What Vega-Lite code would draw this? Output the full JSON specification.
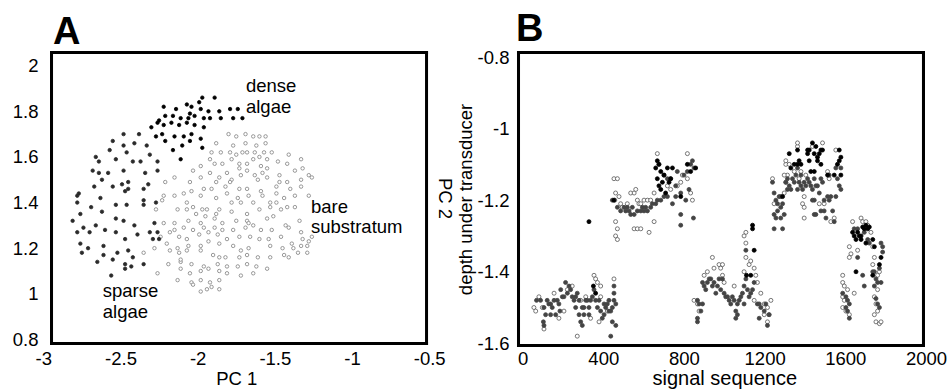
{
"$schema":"https://vega.github.io/schema/vega-lite/v6.json",
"padding":{"left":11,"top":10,"right":0,"bottom":0},
"spacing":91,
"bounds":"flush",
"resolve":{"scale":{"fill":"independent","stroke":"independent"}},
"config":{
"view":{"stroke":"#000000","strokeWidth":2},
"axis":{"labelFont":"Liberation Sans","titleFont":"Liberation Sans","labelFontSize":18.5,"titleFontSize":18.5,"titleFontWeight":"normal","labelColor":"#000","titleColor":"#000","ticks":false,"domain":false,"grid":false,"labelFlush":false,"labelOverlap":false},
"title":{"font":"Liberation Sans","fontSize":38,"fontWeight":"bold","anchor":"start","frame":"group","baseline":"bottom","offset":-1,"color":"#000"}
},
"datasets":{
"frameA":[{"x0":-2.9565,"x1":-2.937,"y0":0.7756,"y1":2.0644},{"x0":-0.527,"x1":-0.5075,"y0":0.7756,"y1":2.0644},{"x0":-2.9565,"x1":-0.5075,"y0":0.7756,"y1":0.7888},{"x0":-2.9565,"x1":-0.5075,"y0":2.0512,"y1":2.0644}],
"frameB":[{"x0":-27.8,"x1":-12.8,"y0":-1.6103,"y1":-0.7832},{"x0":1980,"x1":1995,"y0":-1.6103,"y1":-0.7832},{"x0":-27.8,"x1":1995,"y0":-1.6103,"y1":-1.6019},{"x0":-27.8,"x1":1995,"y0":-0.7916,"y1":-0.7832}],
"pca":[
{"pc1":-1.80,"pc2":1.70,"c":"bare"},{"pc1":-1.69,"pc2":1.70,"c":"bare"},{"pc1":-1.64,"pc2":1.69,"c":"bare"},{"pc1":-1.60,"pc2":1.69,"c":"bare"},{"pc1":-1.56,"pc2":1.69,"c":"bare"},{"pc1":-1.75,"pc2":1.69,"c":"bare"},
{"pc1":-1.88,"pc2":1.66,"c":"bare"},{"pc1":-1.77,"pc2":1.65,"c":"bare"},{"pc1":-1.69,"pc2":1.66,"c":"bare"},{"pc1":-1.62,"pc2":1.65,"c":"bare"},{"pc1":-1.56,"pc2":1.66,"c":"bare"},
{"pc1":-1.91,"pc2":1.62,"c":"bare"},{"pc1":-1.85,"pc2":1.62,"c":"bare"},{"pc1":-1.79,"pc2":1.62,"c":"bare"},{"pc1":-1.75,"pc2":1.61,"c":"bare"},{"pc1":-1.71,"pc2":1.62,"c":"bare"},{"pc1":-1.68,"pc2":1.62,"c":"bare"},{"pc1":-1.63,"pc2":1.62,"c":"bare"},{"pc1":-1.57,"pc2":1.62,"c":"bare"},{"pc1":-1.52,"pc2":1.62,"c":"bare"},{"pc1":-1.41,"pc2":1.61,"c":"bare"},
{"pc1":-1.92,"pc2":1.59,"c":"bare"},{"pc1":-1.89,"pc2":1.57,"c":"bare"},{"pc1":-1.84,"pc2":1.57,"c":"bare"},{"pc1":-1.78,"pc2":1.59,"c":"bare"},{"pc1":-1.73,"pc2":1.57,"c":"bare"},{"pc1":-1.68,"pc2":1.57,"c":"bare"},{"pc1":-1.64,"pc2":1.59,"c":"bare"},{"pc1":-1.60,"pc2":1.60,"c":"bare"},{"pc1":-1.55,"pc2":1.59,"c":"bare"},{"pc1":-1.48,"pc2":1.58,"c":"bare"},{"pc1":-1.42,"pc2":1.57,"c":"bare"},{"pc1":-1.33,"pc2":1.59,"c":"bare"},{"pc1":-1.98,"pc2":1.56,"c":"bare"},{"pc1":-1.59,"pc2":1.56,"c":"bare"},{"pc1":-1.55,"pc2":1.55,"c":"bare"},
{"pc1":-2.03,"pc2":1.54,"c":"bare"},{"pc1":-1.98,"pc2":1.51,"c":"bare"},{"pc1":-1.92,"pc2":1.53,"c":"bare"},{"pc1":-1.86,"pc2":1.51,"c":"bare"},{"pc1":-1.81,"pc2":1.53,"c":"bare"},{"pc1":-1.78,"pc2":1.50,"c":"bare"},{"pc1":-1.73,"pc2":1.55,"c":"bare"},{"pc1":-1.68,"pc2":1.54,"c":"bare"},{"pc1":-1.63,"pc2":1.52,"c":"bare"},{"pc1":-1.58,"pc2":1.53,"c":"bare"},{"pc1":-1.47,"pc2":1.52,"c":"bare"},{"pc1":-1.37,"pc2":1.54,"c":"bare"},{"pc1":-1.32,"pc2":1.55,"c":"bare"},{"pc1":-1.28,"pc2":1.52,"c":"bare"},{"pc1":-1.26,"pc2":1.51,"c":"bare"},{"pc1":-2.15,"pc2":1.51,"c":"bare"},{"pc1":-2.21,"pc2":1.49,"c":"bare"},{"pc1":-2.05,"pc2":1.49,"c":"bare"},{"pc1":-1.88,"pc2":1.49,"c":"bare"},{"pc1":-1.79,"pc2":1.49,"c":"bare"},{"pc1":-1.72,"pc2":1.52,"c":"bare"},{"pc1":-1.61,"pc2":1.50,"c":"bare"},{"pc1":-1.55,"pc2":1.51,"c":"bare"},{"pc1":-1.47,"pc2":1.49,"c":"bare"},{"pc1":-1.42,"pc2":1.49,"c":"bare"},{"pc1":-1.33,"pc2":1.50,"c":"bare"},
{"pc1":-2.04,"pc2":1.45,"c":"bare"},{"pc1":-1.96,"pc2":1.46,"c":"bare"},{"pc1":-1.91,"pc2":1.46,"c":"bare"},{"pc1":-1.82,"pc2":1.47,"c":"bare"},{"pc1":-1.73,"pc2":1.46,"c":"bare"},{"pc1":-1.68,"pc2":1.46,"c":"bare"},{"pc1":-1.59,"pc2":1.45,"c":"bare"},{"pc1":-1.49,"pc2":1.47,"c":"bare"},{"pc1":-1.40,"pc2":1.46,"c":"bare"},{"pc1":-1.33,"pc2":1.47,"c":"bare"},{"pc1":-2.22,"pc2":1.43,"c":"bare"},{"pc1":-2.15,"pc2":1.43,"c":"bare"},{"pc1":-2.09,"pc2":1.44,"c":"bare"},{"pc1":-1.98,"pc2":1.43,"c":"bare"},{"pc1":-1.88,"pc2":1.42,"c":"bare"},{"pc1":-1.81,"pc2":1.44,"c":"bare"},{"pc1":-1.74,"pc2":1.42,"c":"bare"},{"pc1":-1.67,"pc2":1.43,"c":"bare"},{"pc1":-1.58,"pc2":1.43,"c":"bare"},{"pc1":-1.49,"pc2":1.44,"c":"bare"},{"pc1":-1.44,"pc2":1.42,"c":"bare"},{"pc1":-1.37,"pc2":1.43,"c":"bare"},{"pc1":-1.28,"pc2":1.43,"c":"bare"},
{"pc1":-2.23,"pc2":1.41,"c":"bare"},{"pc1":-2.07,"pc2":1.40,"c":"bare"},{"pc1":-2.03,"pc2":1.38,"c":"bare"},{"pc1":-1.97,"pc2":1.37,"c":"bare"},{"pc1":-1.94,"pc2":1.37,"c":"bare"},{"pc1":-1.86,"pc2":1.37,"c":"bare"},{"pc1":-1.78,"pc2":1.40,"c":"bare"},{"pc1":-1.72,"pc2":1.40,"c":"bare"},{"pc1":-1.64,"pc2":1.40,"c":"bare"},{"pc1":-1.53,"pc2":1.40,"c":"bare"},{"pc1":-1.49,"pc2":1.40,"c":"bare"},{"pc1":-1.42,"pc2":1.38,"c":"bare"},{"pc1":-1.37,"pc2":1.38,"c":"bare"},{"pc1":-2.27,"pc2":1.37,"c":"bare"},{"pc1":-2.13,"pc2":1.37,"c":"bare"},{"pc1":-2.07,"pc2":1.37,"c":"bare"},{"pc1":-2.01,"pc2":1.35,"c":"bare"},{"pc1":-1.95,"pc2":1.34,"c":"bare"},{"pc1":-1.88,"pc2":1.35,"c":"bare"},{"pc1":-1.78,"pc2":1.36,"c":"bare"},{"pc1":-1.68,"pc2":1.35,"c":"bare"},{"pc1":-1.60,"pc2":1.37,"c":"bare"},{"pc1":-1.53,"pc2":1.38,"c":"bare"},{"pc1":-1.46,"pc2":1.37,"c":"bare"},
{"pc1":-2.22,"pc2":1.31,"c":"bare"},{"pc1":-2.15,"pc2":1.31,"c":"bare"},{"pc1":-2.06,"pc2":1.32,"c":"bare"},{"pc1":-1.98,"pc2":1.31,"c":"bare"},{"pc1":-1.89,"pc2":1.33,"c":"bare"},{"pc1":-1.84,"pc2":1.31,"c":"bare"},{"pc1":-1.75,"pc2":1.32,"c":"bare"},{"pc1":-1.68,"pc2":1.32,"c":"bare"},{"pc1":-1.64,"pc2":1.30,"c":"bare"},{"pc1":-1.55,"pc2":1.33,"c":"bare"},{"pc1":-1.51,"pc2":1.34,"c":"bare"},{"pc1":-1.43,"pc2":1.30,"c":"bare"},{"pc1":-1.34,"pc2":1.32,"c":"bare"},{"pc1":-2.15,"pc2":1.28,"c":"bare"},{"pc1":-2.09,"pc2":1.29,"c":"bare"},{"pc1":-2.03,"pc2":1.28,"c":"bare"},{"pc1":-1.96,"pc2":1.29,"c":"bare"},{"pc1":-1.89,"pc2":1.29,"c":"bare"},{"pc1":-1.84,"pc2":1.28,"c":"bare"},{"pc1":-1.77,"pc2":1.28,"c":"bare"},{"pc1":-1.69,"pc2":1.29,"c":"bare"},{"pc1":-1.67,"pc2":1.31,"c":"bare"},{"pc1":-1.59,"pc2":1.28,"c":"bare"},{"pc1":-1.52,"pc2":1.28,"c":"bare"},{"pc1":-1.41,"pc2":1.29,"c":"bare"},{"pc1":-1.33,"pc2":1.27,"c":"bare"},{"pc1":-1.26,"pc2":1.25,"c":"bare"},
{"pc1":-2.24,"pc2":1.25,"c":"bare"},{"pc1":-2.18,"pc2":1.27,"c":"bare"},{"pc1":-2.12,"pc2":1.25,"c":"bare"},{"pc1":-2.07,"pc2":1.24,"c":"bare"},{"pc1":-1.99,"pc2":1.26,"c":"bare"},{"pc1":-1.93,"pc2":1.27,"c":"bare"},{"pc1":-1.87,"pc2":1.26,"c":"bare"},{"pc1":-1.81,"pc2":1.24,"c":"bare"},{"pc1":-1.73,"pc2":1.25,"c":"bare"},{"pc1":-1.66,"pc2":1.25,"c":"bare"},{"pc1":-1.60,"pc2":1.24,"c":"bare"},{"pc1":-1.54,"pc2":1.24,"c":"bare"},{"pc1":-1.46,"pc2":1.25,"c":"bare"},{"pc1":-1.39,"pc2":1.22,"c":"bare"},{"pc1":-1.32,"pc2":1.24,"c":"bare"},{"pc1":-1.28,"pc2":1.23,"c":"bare"},{"pc1":-2.28,"pc2":1.20,"c":"bare"},{"pc1":-2.20,"pc2":1.22,"c":"bare"},{"pc1":-2.13,"pc2":1.20,"c":"bare"},{"pc1":-2.06,"pc2":1.21,"c":"bare"},{"pc1":-1.98,"pc2":1.21,"c":"bare"},{"pc1":-1.93,"pc2":1.23,"c":"bare"},{"pc1":-1.86,"pc2":1.22,"c":"bare"},{"pc1":-1.77,"pc2":1.21,"c":"bare"},{"pc1":-1.72,"pc2":1.19,"c":"bare"},{"pc1":-1.67,"pc2":1.20,"c":"bare"},{"pc1":-1.53,"pc2":1.21,"c":"bare"},{"pc1":-1.45,"pc2":1.20,"c":"bare"},{"pc1":-1.38,"pc2":1.20,"c":"bare"},{"pc1":-1.33,"pc2":1.21,"c":"bare"},{"pc1":-1.29,"pc2":1.21,"c":"bare"},
{"pc1":-2.35,"pc2":1.18,"c":"bare"},{"pc1":-2.18,"pc2":1.19,"c":"bare"},{"pc1":-2.12,"pc2":1.18,"c":"bare"},{"pc1":-2.07,"pc2":1.19,"c":"bare"},{"pc1":-1.98,"pc2":1.19,"c":"bare"},{"pc1":-1.90,"pc2":1.17,"c":"bare"},{"pc1":-1.86,"pc2":1.16,"c":"bare"},{"pc1":-1.82,"pc2":1.16,"c":"bare"},{"pc1":-1.73,"pc2":1.16,"c":"bare"},{"pc1":-1.68,"pc2":1.17,"c":"bare"},{"pc1":-1.61,"pc2":1.16,"c":"bare"},{"pc1":-1.53,"pc2":1.16,"c":"bare"},{"pc1":-1.44,"pc2":1.17,"c":"bare"},{"pc1":-1.41,"pc2":1.16,"c":"bare"},{"pc1":-1.35,"pc2":1.18,"c":"bare"},{"pc1":-1.29,"pc2":1.18,"c":"bare"},{"pc1":-2.19,"pc2":1.13,"c":"bare"},{"pc1":-2.11,"pc2":1.14,"c":"bare"},{"pc1":-2.04,"pc2":1.13,"c":"bare"},{"pc1":-1.96,"pc2":1.12,"c":"bare"},{"pc1":-1.87,"pc2":1.13,"c":"bare"},{"pc1":-1.81,"pc2":1.12,"c":"bare"},{"pc1":-1.74,"pc2":1.12,"c":"bare"},{"pc1":-1.68,"pc2":1.13,"c":"bare"},{"pc1":-1.62,"pc2":1.12,"c":"bare"},{"pc1":-1.55,"pc2":1.11,"c":"bare"},
{"pc1":-2.26,"pc2":1.09,"c":"bare"},{"pc1":-2.11,"pc2":1.11,"c":"bare"},{"pc1":-2.05,"pc2":1.09,"c":"bare"},{"pc1":-1.98,"pc2":1.10,"c":"bare"},{"pc1":-1.93,"pc2":1.11,"c":"bare"},{"pc1":-1.86,"pc2":1.10,"c":"bare"},{"pc1":-1.81,"pc2":1.09,"c":"bare"},{"pc1":-1.72,"pc2":1.08,"c":"bare"},{"pc1":-1.64,"pc2":1.09,"c":"bare"},{"pc1":-2.04,"pc2":1.05,"c":"bare"},{"pc1":-1.98,"pc2":1.06,"c":"bare"},{"pc1":-1.92,"pc2":1.05,"c":"bare"},{"pc1":-1.86,"pc2":1.06,"c":"bare"},{"pc1":-1.98,"pc2":1.01,"c":"bare"},{"pc1":-1.94,"pc2":1.02,"c":"bare"},{"pc1":-1.91,"pc2":1.03,"c":"bare"},{"pc1":-1.86,"pc2":1.02,"c":"bare"},{"pc1":-2.13,"pc2":1.06,"c":"bare"},{"pc1":-2.03,"pc2":1.04,"c":"bare"},{"pc1":-2.11,"pc2":1.15,"c":"bare"},
{"pc1":-2.48,"pc2":1.70,"c":"sparse"},{"pc1":-2.38,"pc2":1.70,"c":"sparse"},{"pc1":-2.55,"pc2":1.67,"c":"sparse"},{"pc1":-2.48,"pc2":1.65,"c":"sparse"},{"pc1":-2.41,"pc2":1.66,"c":"sparse"},{"pc1":-2.33,"pc2":1.65,"c":"sparse"},{"pc1":-2.46,"pc2":1.62,"c":"sparse"},{"pc1":-2.57,"pc2":1.63,"c":"sparse"},{"pc1":-2.53,"pc2":1.59,"c":"sparse"},{"pc1":-2.66,"pc2":1.60,"c":"sparse"},{"pc1":-2.64,"pc2":1.58,"c":"sparse"},{"pc1":-2.31,"pc2":1.61,"c":"sparse"},{"pc1":-2.42,"pc2":1.58,"c":"sparse"},{"pc1":-2.37,"pc2":1.58,"c":"sparse"},{"pc1":-2.26,"pc2":1.58,"c":"sparse"},{"pc1":-2.68,"pc2":1.54,"c":"sparse"},{"pc1":-2.64,"pc2":1.53,"c":"sparse"},{"pc1":-2.58,"pc2":1.53,"c":"sparse"},{"pc1":-2.48,"pc2":1.54,"c":"sparse"},{"pc1":-2.34,"pc2":1.53,"c":"sparse"},{"pc1":-2.26,"pc2":1.54,"c":"sparse"},{"pc1":-2.62,"pc2":1.50,"c":"sparse"},{"pc1":-2.49,"pc2":1.48,"c":"sparse"},{"pc1":-2.45,"pc2":1.49,"c":"sparse"},{"pc1":-2.55,"pc2":1.47,"c":"sparse"},{"pc1":-2.67,"pc2":1.47,"c":"sparse"},{"pc1":-2.47,"pc2":1.45,"c":"sparse"},{"pc1":-2.45,"pc2":1.46,"c":"sparse"},{"pc1":-2.35,"pc2":1.46,"c":"sparse"},{"pc1":-2.32,"pc2":1.48,"c":"sparse"},{"pc1":-2.77,"pc2":1.44,"c":"sparse"},{"pc1":-2.78,"pc2":1.43,"c":"sparse"},{"pc1":-2.78,"pc2":1.40,"c":"sparse"},{"pc1":-2.63,"pc2":1.42,"c":"sparse"},{"pc1":-2.53,"pc2":1.39,"c":"sparse"},{"pc1":-2.46,"pc2":1.39,"c":"sparse"},{"pc1":-2.35,"pc2":1.41,"c":"sparse"},{"pc1":-2.35,"pc2":1.39,"c":"sparse"},{"pc1":-2.27,"pc2":1.40,"c":"sparse"},{"pc1":-2.69,"pc2":1.38,"c":"sparse"},{"pc1":-2.62,"pc2":1.36,"c":"sparse"},{"pc1":-2.81,"pc2":1.32,"c":"sparse"},{"pc1":-2.76,"pc2":1.35,"c":"sparse"},{"pc1":-2.66,"pc2":1.30,"c":"sparse"},{"pc1":-2.53,"pc2":1.33,"c":"sparse"},{"pc1":-2.48,"pc2":1.32,"c":"sparse"},{"pc1":-2.41,"pc2":1.30,"c":"sparse"},{"pc1":-2.28,"pc2":1.31,"c":"sparse"},{"pc1":-2.78,"pc2":1.27,"c":"sparse"},{"pc1":-2.74,"pc2":1.29,"c":"sparse"},{"pc1":-2.70,"pc2":1.27,"c":"sparse"},{"pc1":-2.60,"pc2":1.28,"c":"sparse"},{"pc1":-2.53,"pc2":1.27,"c":"sparse"},{"pc1":-2.31,"pc2":1.27,"c":"sparse"},{"pc1":-2.26,"pc2":1.27,"c":"sparse"},{"pc1":-2.25,"pc2":1.24,"c":"sparse"},{"pc1":-2.39,"pc2":1.26,"c":"sparse"},{"pc1":-2.76,"pc2":1.22,"c":"sparse"},{"pc1":-2.71,"pc2":1.20,"c":"sparse"},{"pc1":-2.61,"pc2":1.21,"c":"sparse"},{"pc1":-2.47,"pc2":1.24,"c":"sparse"},{"pc1":-2.52,"pc2":1.18,"c":"sparse"},{"pc1":-2.75,"pc2":1.18,"c":"sparse"},{"pc1":-2.45,"pc2":1.19,"c":"sparse"},{"pc1":-2.61,"pc2":1.17,"c":"sparse"},{"pc1":-2.55,"pc2":1.15,"c":"sparse"},{"pc1":-2.42,"pc2":1.16,"c":"sparse"},{"pc1":-2.65,"pc2":1.14,"c":"sparse"},{"pc1":-2.47,"pc2":1.13,"c":"sparse"},{"pc1":-2.43,"pc2":1.12,"c":"sparse"},{"pc1":-2.35,"pc2":1.13,"c":"sparse"},{"pc1":-2.56,"pc2":1.08,"c":"sparse"},{"pc1":-2.47,"pc2":1.11,"c":"sparse"},{"pc1":-2.29,"pc2":1.24,"c":"sparse"},
{"pc1":-1.97,"pc2":1.86,"c":"dense"},{"pc1":-1.89,"pc2":1.86,"c":"dense"},{"pc1":-2.22,"pc2":1.82,"c":"dense"},{"pc1":-2.14,"pc2":1.81,"c":"dense"},{"pc1":-2.07,"pc2":1.83,"c":"dense"},{"pc1":-2.04,"pc2":1.82,"c":"dense"},{"pc1":-1.99,"pc2":1.84,"c":"dense"},{"pc1":-2.05,"pc2":1.79,"c":"dense"},{"pc1":-1.98,"pc2":1.81,"c":"dense"},{"pc1":-1.93,"pc2":1.80,"c":"dense"},{"pc1":-1.86,"pc2":1.80,"c":"dense"},{"pc1":-1.79,"pc2":1.81,"c":"dense"},{"pc1":-1.74,"pc2":1.81,"c":"dense"},{"pc1":-2.25,"pc2":1.76,"c":"dense"},{"pc1":-2.21,"pc2":1.78,"c":"dense"},{"pc1":-2.16,"pc2":1.78,"c":"dense"},{"pc1":-2.11,"pc2":1.77,"c":"dense"},{"pc1":-2.06,"pc2":1.77,"c":"dense"},{"pc1":-2.02,"pc2":1.78,"c":"dense"},{"pc1":-1.96,"pc2":1.77,"c":"dense"},{"pc1":-1.92,"pc2":1.77,"c":"dense"},{"pc1":-1.85,"pc2":1.77,"c":"dense"},{"pc1":-1.77,"pc2":1.77,"c":"dense"},{"pc1":-1.71,"pc2":1.77,"c":"dense"},{"pc1":-2.30,"pc2":1.73,"c":"dense"},{"pc1":-2.26,"pc2":1.75,"c":"dense"},{"pc1":-2.22,"pc2":1.74,"c":"dense"},{"pc1":-2.17,"pc2":1.75,"c":"dense"},{"pc1":-2.12,"pc2":1.74,"c":"dense"},{"pc1":-2.07,"pc2":1.75,"c":"dense"},{"pc1":-2.02,"pc2":1.74,"c":"dense"},{"pc1":-1.96,"pc2":1.73,"c":"dense"},{"pc1":-2.27,"pc2":1.69,"c":"dense"},{"pc1":-2.23,"pc2":1.70,"c":"dense"},{"pc1":-2.21,"pc2":1.67,"c":"dense"},{"pc1":-2.15,"pc2":1.69,"c":"dense"},{"pc1":-2.09,"pc2":1.69,"c":"dense"},{"pc1":-2.04,"pc2":1.70,"c":"dense"},{"pc1":-1.98,"pc2":1.68,"c":"dense"},{"pc1":-2.16,"pc2":1.63,"c":"dense"},{"pc1":-2.10,"pc2":1.65,"c":"dense"},{"pc1":-2.05,"pc2":1.67,"c":"dense"},{"pc1":-1.97,"pc2":1.64,"c":"dense"},{"pc1":-2.11,"pc2":1.59,"c":"dense"}
],
"seq":[
{"seq":56,"depth":-1.50,"c":"bare"},{"seq":65,"depth":-1.51,"c":"bare"},{"seq":98,"depth":-1.50,"c":"bare"},{"seq":106,"depth":-1.56,"c":"bare"},{"seq":180,"depth":-1.53,"c":"bare"},{"seq":271,"depth":-1.58,"c":"bare"},{"seq":288,"depth":-1.48,"c":"bare"},{"seq":337,"depth":-1.53,"c":"bare"},{"seq":354,"depth":-1.41,"c":"bare"},{"seq":362,"depth":-1.42,"c":"bare"},{"seq":371,"depth":-1.43,"c":"bare"},{"seq":387,"depth":-1.44,"c":"bare"},{"seq":379,"depth":-1.54,"c":"bare"},{"seq":453,"depth":-1.42,"c":"bare"},{"seq":81,"depth":-1.47,"c":"bare"},{"seq":156,"depth":-1.46,"c":"bare"},{"seq":222,"depth":-1.45,"c":"bare"},{"seq":246,"depth":-1.44,"c":"bare"},{"seq":313,"depth":-1.47,"c":"bare"},{"seq":387,"depth":-1.47,"c":"bare"},{"seq":420,"depth":-1.51,"c":"bare"},{"seq":205,"depth":-1.51,"c":"bare"},
{"seq":453,"depth":-1.14,"c":"bare"},{"seq":470,"depth":-1.14,"c":"bare"},{"seq":461,"depth":-1.18,"c":"bare"},{"seq":457,"depth":-1.20,"c":"bare"},{"seq":478,"depth":-1.19,"c":"bare"},{"seq":486,"depth":-1.21,"c":"bare"},{"seq":494,"depth":-1.22,"c":"bare"},{"seq":461,"depth":-1.26,"c":"bare"},{"seq":470,"depth":-1.28,"c":"bare"},{"seq":461,"depth":-1.30,"c":"bare"},{"seq":470,"depth":-1.31,"c":"bare"},{"seq":519,"depth":-1.21,"c":"bare"},{"seq":536,"depth":-1.18,"c":"bare"},{"seq":553,"depth":-1.18,"c":"bare"},{"seq":561,"depth":-1.17,"c":"bare"},{"seq":569,"depth":-1.20,"c":"bare"},{"seq":577,"depth":-1.21,"c":"bare"},{"seq":586,"depth":-1.21,"c":"bare"},{"seq":602,"depth":-1.20,"c":"bare"},{"seq":619,"depth":-1.20,"c":"bare"},{"seq":635,"depth":-1.20,"c":"bare"},{"seq":652,"depth":-1.18,"c":"bare"},{"seq":553,"depth":-1.28,"c":"bare"},{"seq":569,"depth":-1.28,"c":"bare"},{"seq":586,"depth":-1.28,"c":"bare"},{"seq":627,"depth":-1.29,"c":"bare"},{"seq":652,"depth":-1.26,"c":"bare"},{"seq":668,"depth":-1.07,"c":"bare"},{"seq":676,"depth":-1.10,"c":"bare"},{"seq":718,"depth":-1.16,"c":"bare"},{"seq":734,"depth":-1.17,"c":"bare"},{"seq":767,"depth":-1.16,"c":"bare"},{"seq":784,"depth":-1.15,"c":"bare"},{"seq":792,"depth":-1.13,"c":"bare"},{"seq":817,"depth":-1.07,"c":"bare"},{"seq":817,"depth":-1.14,"c":"bare"},{"seq":833,"depth":-1.18,"c":"bare"},{"seq":842,"depth":-1.20,"c":"bare"},
{"seq":850,"depth":-1.48,"c":"bare"},{"seq":867,"depth":-1.49,"c":"bare"},{"seq":875,"depth":-1.51,"c":"bare"},{"seq":900,"depth":-1.41,"c":"bare"},{"seq":916,"depth":-1.40,"c":"bare"},{"seq":941,"depth":-1.36,"c":"bare"},{"seq":949,"depth":-1.39,"c":"bare"},{"seq":974,"depth":-1.38,"c":"bare"},{"seq":982,"depth":-1.39,"c":"bare"},{"seq":991,"depth":-1.38,"c":"bare"},{"seq":991,"depth":-1.41,"c":"bare"},{"seq":999,"depth":-1.43,"c":"bare"},{"seq":1049,"depth":-1.44,"c":"bare"},{"seq":1098,"depth":-1.40,"c":"bare"},{"seq":1107,"depth":-1.36,"c":"bare"},{"seq":1123,"depth":-1.38,"c":"bare"},{"seq":1131,"depth":-1.37,"c":"bare"},{"seq":1148,"depth":-1.39,"c":"bare"},{"seq":1156,"depth":-1.41,"c":"bare"},{"seq":1164,"depth":-1.43,"c":"bare"},{"seq":1148,"depth":-1.48,"c":"bare"},{"seq":1181,"depth":-1.46,"c":"bare"},{"seq":1198,"depth":-1.49,"c":"bare"},{"seq":1214,"depth":-1.50,"c":"bare"},{"seq":1222,"depth":-1.52,"c":"bare"},{"seq":1231,"depth":-1.48,"c":"bare"},{"seq":1214,"depth":-1.54,"c":"bare"},{"seq":1198,"depth":-1.52,"c":"bare"},{"seq":1107,"depth":-1.29,"c":"bare"},{"seq":1098,"depth":-1.30,"c":"bare"},{"seq":1107,"depth":-1.32,"c":"bare"},
{"seq":1239,"depth":-1.14,"c":"bare"},{"seq":1247,"depth":-1.21,"c":"bare"},{"seq":1297,"depth":-1.18,"c":"bare"},{"seq":1305,"depth":-1.10,"c":"bare"},{"seq":1313,"depth":-1.13,"c":"bare"},{"seq":1322,"depth":-1.10,"c":"bare"},{"seq":1363,"depth":-1.05,"c":"bare"},{"seq":1396,"depth":-1.25,"c":"bare"},{"seq":1388,"depth":-1.21,"c":"bare"},{"seq":1363,"depth":-1.04,"c":"bare"},{"seq":1437,"depth":-1.05,"c":"bare"},{"seq":1487,"depth":-1.04,"c":"bare"},{"seq":1553,"depth":-1.06,"c":"bare"},{"seq":1305,"depth":-1.09,"c":"bare"},{"seq":1297,"depth":-1.13,"c":"bare"},{"seq":1305,"depth":-1.15,"c":"bare"},{"seq":1347,"depth":-1.12,"c":"bare"},{"seq":1380,"depth":-1.12,"c":"bare"},{"seq":1396,"depth":-1.19,"c":"bare"},{"seq":1396,"depth":-1.22,"c":"bare"},{"seq":1471,"depth":-1.21,"c":"bare"},{"seq":1495,"depth":-1.21,"c":"bare"},{"seq":1528,"depth":-1.26,"c":"bare"},{"seq":1545,"depth":-1.25,"c":"bare"},{"seq":1512,"depth":-1.12,"c":"bare"},{"seq":1520,"depth":-1.14,"c":"bare"},{"seq":1404,"depth":-1.13,"c":"bare"},{"seq":1371,"depth":-1.14,"c":"bare"},
{"seq":1636,"depth":-1.26,"c":"bare"},{"seq":1678,"depth":-1.25,"c":"bare"},{"seq":1686,"depth":-1.26,"c":"bare"},{"seq":1702,"depth":-1.26,"c":"bare"},{"seq":1711,"depth":-1.27,"c":"bare"},{"seq":1727,"depth":-1.29,"c":"bare"},{"seq":1620,"depth":-1.33,"c":"bare"},{"seq":1628,"depth":-1.35,"c":"bare"},{"seq":1620,"depth":-1.36,"c":"bare"},{"seq":1661,"depth":-1.34,"c":"bare"},{"seq":1736,"depth":-1.33,"c":"bare"},{"seq":1744,"depth":-1.36,"c":"bare"},{"seq":1736,"depth":-1.38,"c":"bare"},{"seq":1769,"depth":-1.40,"c":"bare"},{"seq":1760,"depth":-1.41,"c":"bare"},{"seq":1587,"depth":-1.41,"c":"bare"},{"seq":1587,"depth":-1.43,"c":"bare"},{"seq":1595,"depth":-1.44,"c":"bare"},{"seq":1611,"depth":-1.45,"c":"bare"},{"seq":1644,"depth":-1.46,"c":"bare"},{"seq":1587,"depth":-1.47,"c":"bare"},{"seq":1595,"depth":-1.48,"c":"bare"},{"seq":1587,"depth":-1.50,"c":"bare"},{"seq":1603,"depth":-1.51,"c":"bare"},{"seq":1620,"depth":-1.52,"c":"bare"},{"seq":1744,"depth":-1.47,"c":"bare"},{"seq":1752,"depth":-1.49,"c":"bare"},{"seq":1760,"depth":-1.51,"c":"bare"},{"seq":1744,"depth":-1.52,"c":"bare"},{"seq":1760,"depth":-1.45,"c":"bare"},{"seq":1752,"depth":-1.54,"c":"bare"},{"seq":1769,"depth":-1.545,"c":"bare"},{"seq":1777,"depth":-1.54,"c":"bare"},
{"seq":69,"depth":-1.48,"c":"sparse"},{"seq":89,"depth":-1.48,"c":"sparse"},{"seq":106,"depth":-1.50,"c":"sparse"},{"seq":114,"depth":-1.52,"c":"sparse"},{"seq":103,"depth":-1.54,"c":"sparse"},{"seq":106,"depth":-1.55,"c":"sparse"},{"seq":122,"depth":-1.48,"c":"sparse"},{"seq":130,"depth":-1.49,"c":"sparse"},{"seq":139,"depth":-1.49,"c":"sparse"},{"seq":147,"depth":-1.50,"c":"sparse"},{"seq":156,"depth":-1.48,"c":"sparse"},{"seq":164,"depth":-1.52,"c":"sparse"},{"seq":172,"depth":-1.48,"c":"sparse"},{"seq":180,"depth":-1.49,"c":"sparse"},{"seq":185,"depth":-1.51,"c":"sparse"},{"seq":189,"depth":-1.45,"c":"sparse"},{"seq":197,"depth":-1.47,"c":"sparse"},{"seq":205,"depth":-1.47,"c":"sparse"},{"seq":213,"depth":-1.43,"c":"sparse"},{"seq":222,"depth":-1.46,"c":"sparse"},{"seq":230,"depth":-1.44,"c":"sparse"},{"seq":238,"depth":-1.45,"c":"sparse"},{"seq":246,"depth":-1.47,"c":"sparse"},{"seq":255,"depth":-1.48,"c":"sparse"},{"seq":263,"depth":-1.50,"c":"sparse"},{"seq":263,"depth":-1.47,"c":"sparse"},{"seq":271,"depth":-1.46,"c":"sparse"},{"seq":280,"depth":-1.52,"c":"sparse"},{"seq":280,"depth":-1.48,"c":"sparse"},{"seq":288,"depth":-1.54,"c":"sparse"},{"seq":296,"depth":-1.55,"c":"sparse"},{"seq":296,"depth":-1.50,"c":"sparse"},{"seq":304,"depth":-1.50,"c":"sparse"},{"seq":304,"depth":-1.52,"c":"sparse"},{"seq":313,"depth":-1.48,"c":"sparse"},{"seq":321,"depth":-1.48,"c":"sparse"},{"seq":329,"depth":-1.50,"c":"sparse"},{"seq":329,"depth":-1.52,"c":"sparse"},{"seq":337,"depth":-1.48,"c":"sparse"},{"seq":346,"depth":-1.47,"c":"sparse"},{"seq":354,"depth":-1.45,"c":"sparse"},{"seq":362,"depth":-1.48,"c":"sparse"},{"seq":371,"depth":-1.50,"c":"sparse"},{"seq":379,"depth":-1.48,"c":"sparse"},{"seq":387,"depth":-1.51,"c":"sparse"},{"seq":395,"depth":-1.53,"c":"sparse"},{"seq":404,"depth":-1.52,"c":"sparse"},{"seq":404,"depth":-1.49,"c":"sparse"},{"seq":412,"depth":-1.50,"c":"sparse"},{"seq":420,"depth":-1.49,"c":"sparse"},{"seq":428,"depth":-1.51,"c":"sparse"},{"seq":428,"depth":-1.48,"c":"sparse"},{"seq":437,"depth":-1.51,"c":"sparse"},{"seq":445,"depth":-1.50,"c":"sparse"},{"seq":445,"depth":-1.54,"c":"sparse"},{"seq":453,"depth":-1.48,"c":"sparse"},{"seq":453,"depth":-1.46,"c":"sparse"},{"seq":462,"depth":-1.49,"c":"sparse"},{"seq":462,"depth":-1.55,"c":"sparse"},{"seq":453,"depth":-1.44,"c":"sparse"},{"seq":437,"depth":-1.58,"c":"sparse"},{"seq":139,"depth":-1.52,"c":"sparse"},
{"seq":445,"depth":-1.20,"c":"sparse"},{"seq":470,"depth":-1.22,"c":"sparse"},{"seq":486,"depth":-1.23,"c":"sparse"},{"seq":503,"depth":-1.22,"c":"sparse"},{"seq":511,"depth":-1.23,"c":"sparse"},{"seq":519,"depth":-1.22,"c":"sparse"},{"seq":528,"depth":-1.23,"c":"sparse"},{"seq":536,"depth":-1.24,"c":"sparse"},{"seq":544,"depth":-1.22,"c":"sparse"},{"seq":553,"depth":-1.24,"c":"sparse"},{"seq":569,"depth":-1.23,"c":"sparse"},{"seq":586,"depth":-1.23,"c":"sparse"},{"seq":594,"depth":-1.22,"c":"sparse"},{"seq":602,"depth":-1.23,"c":"sparse"},{"seq":610,"depth":-1.22,"c":"sparse"},{"seq":619,"depth":-1.23,"c":"sparse"},{"seq":635,"depth":-1.22,"c":"sparse"},{"seq":643,"depth":-1.21,"c":"sparse"},{"seq":660,"depth":-1.21,"c":"sparse"},{"seq":668,"depth":-1.20,"c":"sparse"},{"seq":685,"depth":-1.20,"c":"sparse"},{"seq":701,"depth":-1.19,"c":"sparse"},{"seq":718,"depth":-1.19,"c":"sparse"},{"seq":743,"depth":-1.21,"c":"sparse"},{"seq":759,"depth":-1.19,"c":"sparse"},{"seq":784,"depth":-1.18,"c":"sparse"},{"seq":809,"depth":-1.20,"c":"sparse"},{"seq":825,"depth":-1.17,"c":"sparse"},{"seq":833,"depth":-1.10,"c":"sparse"},{"seq":842,"depth":-1.09,"c":"sparse"},{"seq":850,"depth":-1.11,"c":"sparse"},{"seq":784,"depth":-1.24,"c":"sparse"},{"seq":784,"depth":-1.27,"c":"sparse"},{"seq":847,"depth":-1.25,"c":"sparse"},{"seq":718,"depth":-1.14,"c":"sparse"},{"seq":734,"depth":-1.14,"c":"sparse"},{"seq":701,"depth":-1.13,"c":"sparse"},{"seq":759,"depth":-1.16,"c":"sparse"},{"seq":767,"depth":-1.12,"c":"sparse"},{"seq":800,"depth":-1.13,"c":"sparse"},{"seq":817,"depth":-1.12,"c":"sparse"},
{"seq":867,"depth":-1.48,"c":"sparse"},{"seq":875,"depth":-1.49,"c":"sparse"},{"seq":892,"depth":-1.49,"c":"sparse"},{"seq":867,"depth":-1.53,"c":"sparse"},{"seq":867,"depth":-1.54,"c":"sparse"},{"seq":884,"depth":-1.51,"c":"sparse"},{"seq":892,"depth":-1.43,"c":"sparse"},{"seq":900,"depth":-1.44,"c":"sparse"},{"seq":908,"depth":-1.45,"c":"sparse"},{"seq":916,"depth":-1.43,"c":"sparse"},{"seq":925,"depth":-1.42,"c":"sparse"},{"seq":933,"depth":-1.42,"c":"sparse"},{"seq":941,"depth":-1.44,"c":"sparse"},{"seq":949,"depth":-1.43,"c":"sparse"},{"seq":958,"depth":-1.46,"c":"sparse"},{"seq":966,"depth":-1.44,"c":"sparse"},{"seq":974,"depth":-1.42,"c":"sparse"},{"seq":982,"depth":-1.45,"c":"sparse"},{"seq":991,"depth":-1.42,"c":"sparse"},{"seq":999,"depth":-1.46,"c":"sparse"},{"seq":1007,"depth":-1.47,"c":"sparse"},{"seq":1016,"depth":-1.47,"c":"sparse"},{"seq":1024,"depth":-1.48,"c":"sparse"},{"seq":1032,"depth":-1.49,"c":"sparse"},{"seq":1040,"depth":-1.47,"c":"sparse"},{"seq":1049,"depth":-1.48,"c":"sparse"},{"seq":1057,"depth":-1.51,"c":"sparse"},{"seq":1057,"depth":-1.53,"c":"sparse"},{"seq":1065,"depth":-1.49,"c":"sparse"},{"seq":1074,"depth":-1.48,"c":"sparse"},{"seq":1082,"depth":-1.47,"c":"sparse"},{"seq":1090,"depth":-1.46,"c":"sparse"},{"seq":1098,"depth":-1.44,"c":"sparse"},{"seq":1107,"depth":-1.42,"c":"sparse"},{"seq":1115,"depth":-1.45,"c":"sparse"},{"seq":1123,"depth":-1.47,"c":"sparse"},{"seq":1131,"depth":-1.46,"c":"sparse"},{"seq":1140,"depth":-1.45,"c":"sparse"},{"seq":1148,"depth":-1.43,"c":"sparse"},{"seq":1164,"depth":-1.49,"c":"sparse"},{"seq":1173,"depth":-1.49,"c":"sparse"},{"seq":1181,"depth":-1.50,"c":"sparse"},{"seq":1198,"depth":-1.51,"c":"sparse"},{"seq":1206,"depth":-1.49,"c":"sparse"},{"seq":1214,"depth":-1.55,"c":"sparse"},{"seq":1222,"depth":-1.52,"c":"sparse"},{"seq":1173,"depth":-1.53,"c":"sparse"},{"seq":1098,"depth":-1.49,"c":"sparse"},{"seq":1065,"depth":-1.52,"c":"sparse"},{"seq":1107,"depth":-1.34,"c":"sparse"},
{"seq":1239,"depth":-1.15,"c":"sparse"},{"seq":1247,"depth":-1.18,"c":"sparse"},{"seq":1256,"depth":-1.20,"c":"sparse"},{"seq":1264,"depth":-1.21,"c":"sparse"},{"seq":1247,"depth":-1.24,"c":"sparse"},{"seq":1256,"depth":-1.25,"c":"sparse"},{"seq":1264,"depth":-1.23,"c":"sparse"},{"seq":1280,"depth":-1.25,"c":"sparse"},{"seq":1289,"depth":-1.21,"c":"sparse"},{"seq":1272,"depth":-1.19,"c":"sparse"},{"seq":1280,"depth":-1.22,"c":"sparse"},{"seq":1247,"depth":-1.28,"c":"sparse"},{"seq":1289,"depth":-1.28,"c":"sparse"},{"seq":1305,"depth":-1.15,"c":"sparse"},{"seq":1313,"depth":-1.17,"c":"sparse"},{"seq":1338,"depth":-1.14,"c":"sparse"},{"seq":1347,"depth":-1.15,"c":"sparse"},{"seq":1363,"depth":-1.11,"c":"sparse"},{"seq":1380,"depth":-1.13,"c":"sparse"},{"seq":1396,"depth":-1.15,"c":"sparse"},{"seq":1413,"depth":-1.14,"c":"sparse"},{"seq":1429,"depth":-1.16,"c":"sparse"},{"seq":1446,"depth":-1.14,"c":"sparse"},{"seq":1462,"depth":-1.16,"c":"sparse"},{"seq":1280,"depth":-1.19,"c":"sparse"},{"seq":1297,"depth":-1.24,"c":"sparse"},{"seq":1313,"depth":-1.14,"c":"sparse"},{"seq":1322,"depth":-1.16,"c":"sparse"},{"seq":1330,"depth":-1.17,"c":"sparse"},{"seq":1355,"depth":-1.13,"c":"sparse"},{"seq":1363,"depth":-1.17,"c":"sparse"},{"seq":1371,"depth":-1.15,"c":"sparse"},{"seq":1380,"depth":-1.16,"c":"sparse"},{"seq":1388,"depth":-1.17,"c":"sparse"},{"seq":1404,"depth":-1.16,"c":"sparse"},{"seq":1421,"depth":-1.15,"c":"sparse"},{"seq":1437,"depth":-1.17,"c":"sparse"},{"seq":1454,"depth":-1.16,"c":"sparse"},{"seq":1471,"depth":-1.18,"c":"sparse"},{"seq":1479,"depth":-1.14,"c":"sparse"},{"seq":1487,"depth":-1.15,"c":"sparse"},{"seq":1446,"depth":-1.20,"c":"sparse"},{"seq":1446,"depth":-1.24,"c":"sparse"},{"seq":1437,"depth":-1.20,"c":"sparse"},{"seq":1454,"depth":-1.24,"c":"sparse"},{"seq":1479,"depth":-1.23,"c":"sparse"},{"seq":1495,"depth":-1.23,"c":"sparse"},{"seq":1504,"depth":-1.25,"c":"sparse"},{"seq":1520,"depth":-1.20,"c":"sparse"},{"seq":1528,"depth":-1.19,"c":"sparse"},{"seq":1537,"depth":-1.23,"c":"sparse"},{"seq":1545,"depth":-1.26,"c":"sparse"},{"seq":1520,"depth":-1.13,"c":"sparse"},{"seq":1553,"depth":-1.11,"c":"sparse"},{"seq":1561,"depth":-1.14,"c":"sparse"},{"seq":1570,"depth":-1.16,"c":"sparse"},{"seq":1578,"depth":-1.17,"c":"sparse"},{"seq":1578,"depth":-1.11,"c":"sparse"},{"seq":1553,"depth":-1.19,"c":"sparse"},{"seq":1495,"depth":-1.20,"c":"sparse"},{"seq":1512,"depth":-1.19,"c":"sparse"},
{"seq":1644,"depth":-1.28,"c":"sparse"},{"seq":1661,"depth":-1.28,"c":"sparse"},{"seq":1694,"depth":-1.29,"c":"sparse"},{"seq":1711,"depth":-1.31,"c":"sparse"},{"seq":1719,"depth":-1.32,"c":"sparse"},{"seq":1661,"depth":-1.36,"c":"sparse"},{"seq":1686,"depth":-1.41,"c":"sparse"},{"seq":1694,"depth":-1.44,"c":"sparse"},{"seq":1736,"depth":-1.40,"c":"sparse"},{"seq":1744,"depth":-1.40,"c":"sparse"},{"seq":1752,"depth":-1.42,"c":"sparse"},{"seq":1760,"depth":-1.43,"c":"sparse"},{"seq":1769,"depth":-1.39,"c":"sparse"},{"seq":1777,"depth":-1.32,"c":"sparse"},{"seq":1785,"depth":-1.33,"c":"sparse"},{"seq":1785,"depth":-1.345,"c":"sparse"},{"seq":1587,"depth":-1.46,"c":"sparse"},{"seq":1603,"depth":-1.47,"c":"sparse"},{"seq":1611,"depth":-1.48,"c":"sparse"},{"seq":1620,"depth":-1.49,"c":"sparse"},{"seq":1603,"depth":-1.50,"c":"sparse"},{"seq":1611,"depth":-1.51,"c":"sparse"},{"seq":1620,"depth":-1.53,"c":"sparse"},{"seq":1752,"depth":-1.475,"c":"sparse"},{"seq":1760,"depth":-1.49,"c":"sparse"},{"seq":1769,"depth":-1.50,"c":"sparse"},{"seq":1777,"depth":-1.43,"c":"sparse"},{"seq":1744,"depth":-1.44,"c":"sparse"},
{"seq":351,"depth":-1.44,"c":"dense"},{"seq":362,"depth":-1.46,"c":"dense"},{"seq":329,"depth":-1.26,"c":"dense"},
{"seq":453,"depth":-1.20,"c":"dense"},{"seq":668,"depth":-1.09,"c":"dense"},{"seq":676,"depth":-1.10,"c":"dense"},{"seq":685,"depth":-1.12,"c":"dense"},{"seq":660,"depth":-1.11,"c":"dense"},{"seq":668,"depth":-1.14,"c":"dense"},{"seq":676,"depth":-1.16,"c":"dense"},{"seq":693,"depth":-1.15,"c":"dense"},{"seq":701,"depth":-1.13,"c":"dense"},{"seq":718,"depth":-1.11,"c":"dense"},{"seq":726,"depth":-1.15,"c":"dense"},{"seq":734,"depth":-1.14,"c":"dense"},{"seq":743,"depth":-1.11,"c":"dense"},{"seq":784,"depth":-1.19,"c":"dense"},{"seq":817,"depth":-1.10,"c":"dense"},{"seq":833,"depth":-1.12,"c":"dense"},{"seq":858,"depth":-1.11,"c":"dense"},{"seq":685,"depth":-1.17,"c":"dense"},{"seq":709,"depth":-1.18,"c":"dense"},
{"seq":1110,"depth":-1.41,"c":"dense"},{"seq":1131,"depth":-1.41,"c":"dense"},{"seq":1140,"depth":-1.27,"c":"dense"},{"seq":1140,"depth":-1.28,"c":"dense"},{"seq":1148,"depth":-1.34,"c":"dense"},
{"seq":1289,"depth":-1.19,"c":"dense"},{"seq":1322,"depth":-1.07,"c":"dense"},{"seq":1330,"depth":-1.11,"c":"dense"},{"seq":1347,"depth":-1.10,"c":"dense"},{"seq":1380,"depth":-1.10,"c":"dense"},{"seq":1413,"depth":-1.07,"c":"dense"},{"seq":1421,"depth":-1.09,"c":"dense"},{"seq":1437,"depth":-1.04,"c":"dense"},{"seq":1446,"depth":-1.07,"c":"dense"},{"seq":1462,"depth":-1.08,"c":"dense"},{"seq":1421,"depth":-1.06,"c":"dense"},{"seq":1363,"depth":-1.06,"c":"dense"},{"seq":1371,"depth":-1.09,"c":"dense"},{"seq":1363,"depth":-1.10,"c":"dense"},{"seq":1413,"depth":-1.06,"c":"dense"},{"seq":1454,"depth":-1.05,"c":"dense"},{"seq":1462,"depth":-1.09,"c":"dense"},{"seq":1471,"depth":-1.07,"c":"dense"},{"seq":1479,"depth":-1.06,"c":"dense"},{"seq":1487,"depth":-1.06,"c":"dense"},{"seq":1479,"depth":-1.10,"c":"dense"},{"seq":1429,"depth":-1.12,"c":"dense"},{"seq":1446,"depth":-1.12,"c":"dense"},{"seq":1570,"depth":-1.06,"c":"dense"},{"seq":1578,"depth":-1.08,"c":"dense"},{"seq":1570,"depth":-1.09,"c":"dense"},{"seq":1561,"depth":-1.10,"c":"dense"},{"seq":1578,"depth":-1.13,"c":"dense"},{"seq":1512,"depth":-1.13,"c":"dense"},{"seq":1545,"depth":-1.13,"c":"dense"},
{"seq":1636,"depth":-1.29,"c":"dense"},{"seq":1644,"depth":-1.30,"c":"dense"},{"seq":1653,"depth":-1.31,"c":"dense"},{"seq":1661,"depth":-1.29,"c":"dense"},{"seq":1669,"depth":-1.30,"c":"dense"},{"seq":1678,"depth":-1.31,"c":"dense"},{"seq":1686,"depth":-1.275,"c":"dense"},{"seq":1694,"depth":-1.28,"c":"dense"},{"seq":1702,"depth":-1.27,"c":"dense"},{"seq":1711,"depth":-1.28,"c":"dense"},{"seq":1719,"depth":-1.275,"c":"dense"},{"seq":1702,"depth":-1.32,"c":"dense"},{"seq":1678,"depth":-1.30,"c":"dense"},{"seq":1653,"depth":-1.40,"c":"dense"},{"seq":1736,"depth":-1.31,"c":"dense"},{"seq":1744,"depth":-1.33,"c":"dense"},{"seq":1777,"depth":-1.36,"c":"dense"},{"seq":1769,"depth":-1.38,"c":"dense"},{"seq":1736,"depth":-1.41,"c":"dense"}
]
},
"hconcat":[
{
"width":376,"height":292,
"title":{"text":"A","dx":2},
"layer":[
{"data":{"name":"pca"},
"mark":{"type":"point","shape":"circle","size":12,"strokeWidth":0.8,"opacity":1},
"encoding":{
"x":{"field":"pc1","type":"quantitative","scale":{"domain":[-3,-0.5],"range":[-7.7,378.2],"nice":false,"zero":false},"axis":{"values":[-3,-2.5,-2,-1.5,-1,-0.5],"labelExpr":"''+datum.value","title":"PC 1","labelPadding":5,"titleY":25,"titleBaseline":"top"}},
"y":{"field":"pc2","type":"quantitative","scale":{"domain":[0.78,2.06],"nice":false,"zero":false},"axis":{"values":[0.8,1,1.2,1.4,1.6,1.8,2],"labelExpr":"''+datum.value","title":"PC 2","labelPadding":13,"titleX":387,"titleY":146,"titleAngle":90,"titleAlign":"center","titleBaseline":"alphabetic"}},
"fill":{"field":"c","type":"nominal","scale":{"domain":["dense","sparse","bare"],"range":["#000000","#2a2a2a","#ffffff"]},"legend":null},
"stroke":{"field":"c","type":"nominal","scale":{"domain":["dense","sparse","bare"],"range":["#000000","#2a2a2a","#808080"]},"legend":null}
}},
{"data":{"values":[{"pc1":-1.687,"pc2":1.950,"label":"dense\nalgae"},{"pc1":-1.266,"pc2":1.421,"label":"bare\nsubstratum"},{"pc1":-2.615,"pc2":1.051,"label":"sparse\nalgae"}]},
"mark":{"type":"text","align":"left","baseline":"top","font":"Liberation Sans","fontSize":18.5,"lineBreak":"\n","lineHeight":20.5,"color":"#000"},
"encoding":{"x":{"field":"pc1","type":"quantitative"},"y":{"field":"pc2","type":"quantitative"},"text":{"field":"label"}}},
{"data":{"name":"frameA"},
"mark":{"type":"rect","color":"#000000","fill":"#000000","fillOpacity":1,"opacity":1},
"encoding":{"x":{"field":"x0","type":"quantitative"},"x2":{"field":"x1"},"y":{"field":"y0","type":"quantitative"},"y2":{"field":"y1"}}}
]
},
{
"width":406,"height":294,
"title":{"text":"B","dx":-2},
"layer":[
{"data":{"name":"seq"},
"mark":{"type":"point","shape":"circle","size":16,"strokeWidth":0.8,"opacity":1},
"encoding":{
"x":{"field":"seq","type":"quantitative","scale":{"domain":[0,2000],"range":[4.6,408],"nice":false,"zero":false},"axis":{"values":[0,400,800,1200,1600,2000],"labelExpr":"''+datum.value","title":"signal sequence","labelPadding":3,"titleY":22,"titleBaseline":"top","titleFontSize":20}},
"y":{"field":"depth","type":"quantitative","scale":{"domain":[-1.6075,-0.786],"nice":false,"zero":false},"axis":{"values":[-1.6,-1.4,-1.2,-1,-0.8],"labelExpr":"''+datum.value","title":"depth under transducer","labelPadding":9,"titleX":-47,"titleY":147,"titleAngle":270,"titleAlign":"center","titleBaseline":"alphabetic"}},
"fill":{"field":"c","type":"nominal","scale":{"domain":["dense","sparse","bare"],"range":["#000000","#444444","#ffffff"]},"legend":null},
"stroke":{"field":"c","type":"nominal","scale":{"domain":["dense","sparse","bare"],"range":["#000000","#444444","#555555"]},"legend":null}
}},
{"data":{"name":"frameB"},
"mark":{"type":"rect","color":"#000000","fill":"#000000","fillOpacity":1,"opacity":1},
"encoding":{"x":{"field":"x0","type":"quantitative"},"x2":{"field":"x1"},"y":{"field":"y0","type":"quantitative"},"y2":{"field":"y1"}}}
]
}
]
}
